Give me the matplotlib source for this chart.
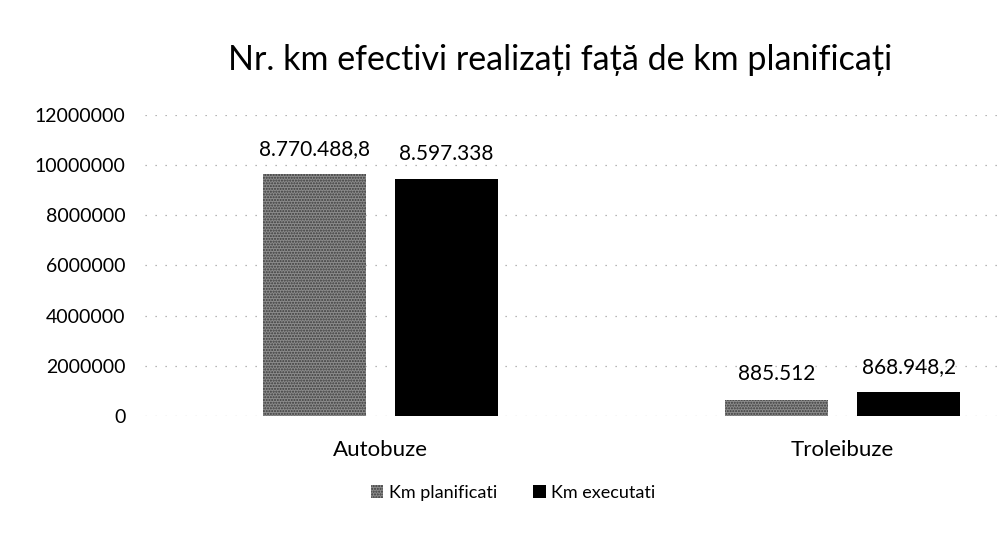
import numpy as np
import matplotlib
matplotlib.use("Agg")
import matplotlib.pyplot as plt

# date
categorii = ["Autobuze", "Troleibuze"]
km_planificati = [9650000, 650000]
km_executati = [9450000, 950000]
etichete_planificati = ["8.770.488,8", "885.512"]
etichete_executati = ["8.597.338", "868.948,2"]
serii = ["Km planificati", "Km executati"]
yticks = [0, 2000000, 4000000, 6000000, 8000000, 10000000, 12000000]

plt.rcParams['font.family'] = ['Lato', 'DejaVu Sans']
plt.rcParams['hatch.linewidth'] = 1.0

fig = plt.figure(figsize=(10.02, 5.38), dpi=100)
ax = fig.add_axes([0.1447, 0.2268, 0.853, 0.5595])

x = np.arange(len(categorii))
latime = 0.223
dx = 0.143

b1 = ax.bar(x - dx, km_planificati, latime, color="#8c8c8c", edgecolor="#3a3a3a",
            hatch="......", linewidth=0, label=serii[0])
b2 = ax.bar(x + dx, km_executati, latime, color="black", linewidth=0, label=serii[1])

# etichete deasupra barelor
for i in range(len(categorii)):
    ax.annotate(etichete_planificati[i], (x[i] - dx, km_planificati[i]), xytext=(0, 11),
                textcoords="offset points", ha="center", va="bottom", fontsize=15)
    ax.annotate(etichete_executati[i], (x[i] + dx, km_executati[i]), xytext=(0, 11),
                textcoords="offset points", ha="center", va="bottom", fontsize=15)

ax.set_xlim(-0.51, 1.34)
ax.set_ylim(0, 12000000)
ax.set_yticks(yticks)
ax.set_yticklabels([str(v) for v in yticks], fontsize=14)
ax.set_xticks(x)
ax.set_xticklabels(categorii, fontsize=16)
ax.tick_params(axis="y", length=0, pad=14)
ax.tick_params(axis="x", length=0, pad=17)
for s in ax.spines.values():
    s.set_visible(False)
ax.yaxis.grid(True, color="#a0a0a0", linestyle=(0, (1, 7)), linewidth=0.9)
ax.set_axisbelow(True)

fig.text(0.559, 1 - 70 / 538, "Nr. km efectivi realizați față de km planificați",
         ha="center", va="baseline", fontsize=24.5)

fig.legend(handles=[b1, b2], loc="center", bbox_to_anchor=(0.512, 0.084), ncol=2,
           frameon=False, fontsize=13, handlelength=0.7, handleheight=0.7,
           handletextpad=0.3, columnspacing=2.0)

fig.savefig("out.png", dpi=100, facecolor="white")
